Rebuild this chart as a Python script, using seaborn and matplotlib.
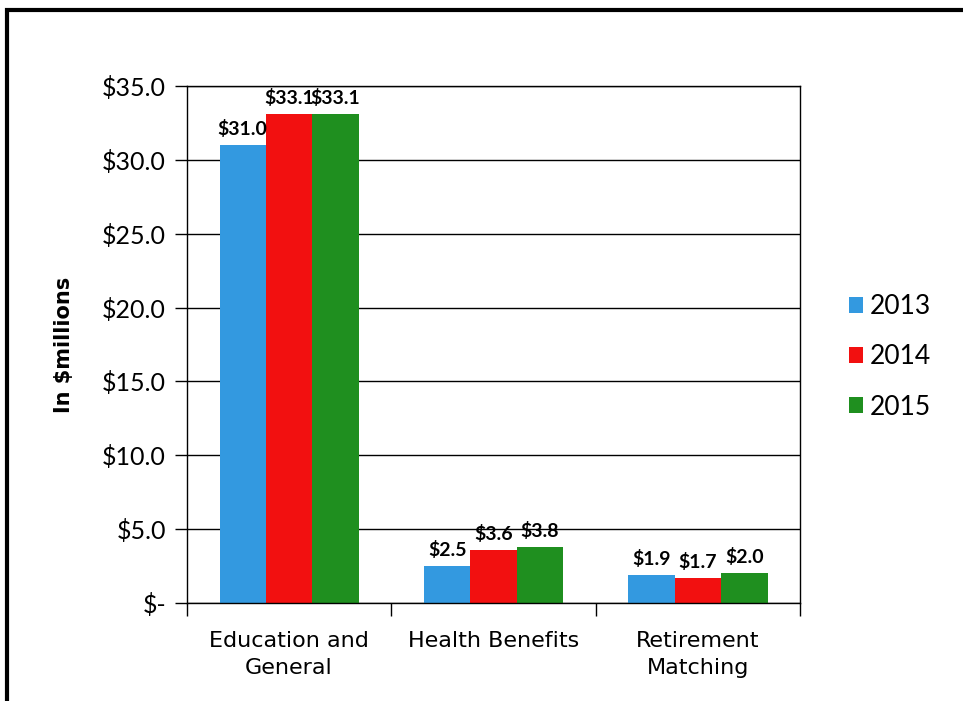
import matplotlib.pyplot as plt
import matplotlib.patches as patches
import pandas as pd
import seaborn as sns

# Data
categories = ['Education and\nGeneral', 'Health Benefits', 'Retirement\nMatching']
years = ['2013', '2014', '2015']
vals_2013 = [31.0, 2.5, 1.9]
vals_2014 = [33.1, 3.6, 1.7]
vals_2015 = [33.1, 3.8, 2.0]
colours = ['#3399E0', '#F21010', '#1F8F1F']

df = pd.DataFrame({
    'Category': categories * 3,
    'Year': [y for y in years for _ in categories],
    'Value': vals_2013 + vals_2014 + vals_2015,
})

sns.set_style('white')
plt.rcParams['font.family'] = ['Lato', 'DejaVu Sans']
plt.rcParams['text.color'] = 'black'
plt.rcParams['axes.labelcolor'] = 'black'
plt.rcParams['xtick.color'] = 'black'
plt.rcParams['ytick.color'] = 'black'

fig = plt.figure(figsize=(9.63, 7.01), dpi=100, facecolor='white')
ax = fig.add_axes([0.194, 0.140, 0.637, 0.737])

sns.barplot(data=df, x='Category', y='Value', hue='Year', palette=colours,
            width=0.68, saturation=1, linewidth=0, ax=ax, legend=True)

ax.set_ylim(0, 35)
ax.set_yticks(range(0, 36, 5))
ax.set_yticklabels(['$-' if v == 0 else f'${v:.1f}' for v in range(0, 36, 5)],
                   fontsize=18)
ax.yaxis.grid(True, color='black', lw=1)
ax.set_axisbelow(True)
ax.set_xlim(-0.5, 2.5)
ax.set_xlabel('')
ax.set_ylabel('In $millions', family='DejaVu Sans', weight='bold', fontsize=15,
              labelpad=20)

for lbl in ax.get_xticklabels():
    lbl.set_family('DejaVu Sans')
    lbl.set_fontsize(16)
    lbl.set_linespacing(1.45)

# Ticks: y ticks out to the left, x ticks at category boundaries
ax.tick_params(axis='y', length=9, width=1, color='black', direction='out',
               left=True, pad=6)
ax.tick_params(axis='x', length=0, pad=20)
ax.set_xticks([-0.5, 0.5, 1.5, 2.5], minor=True)
ax.tick_params(axis='x', which='minor', length=9, width=1, color='black',
               direction='out', bottom=True)

for s in ax.spines.values():
    s.set_color('black')
    s.set_linewidth(1)

# Data labels
for cont in ax.containers:
    ax.bar_label(cont, fmt=lambda v: f'${v:.1f}', fontsize=14, weight='bold',
                 padding=5)

handles, labels = ax.get_legend_handles_labels()
ax.legend(handles, labels, loc='center left', bbox_to_anchor=(1.04, 0.476),
          frameon=False, fontsize=19, handlelength=0.55, handleheight=0.55,
          handletextpad=0.25, labelspacing=0.95)

# Outer frame of the scanned page
fig.patches.append(patches.Rectangle((0.007, -0.05), 1.1, 1.036, fill=False,
                                     edgecolor='black', lw=3,
                                     transform=fig.transFigure, figure=fig))

fig.savefig('out.png', dpi=100, facecolor='white')
